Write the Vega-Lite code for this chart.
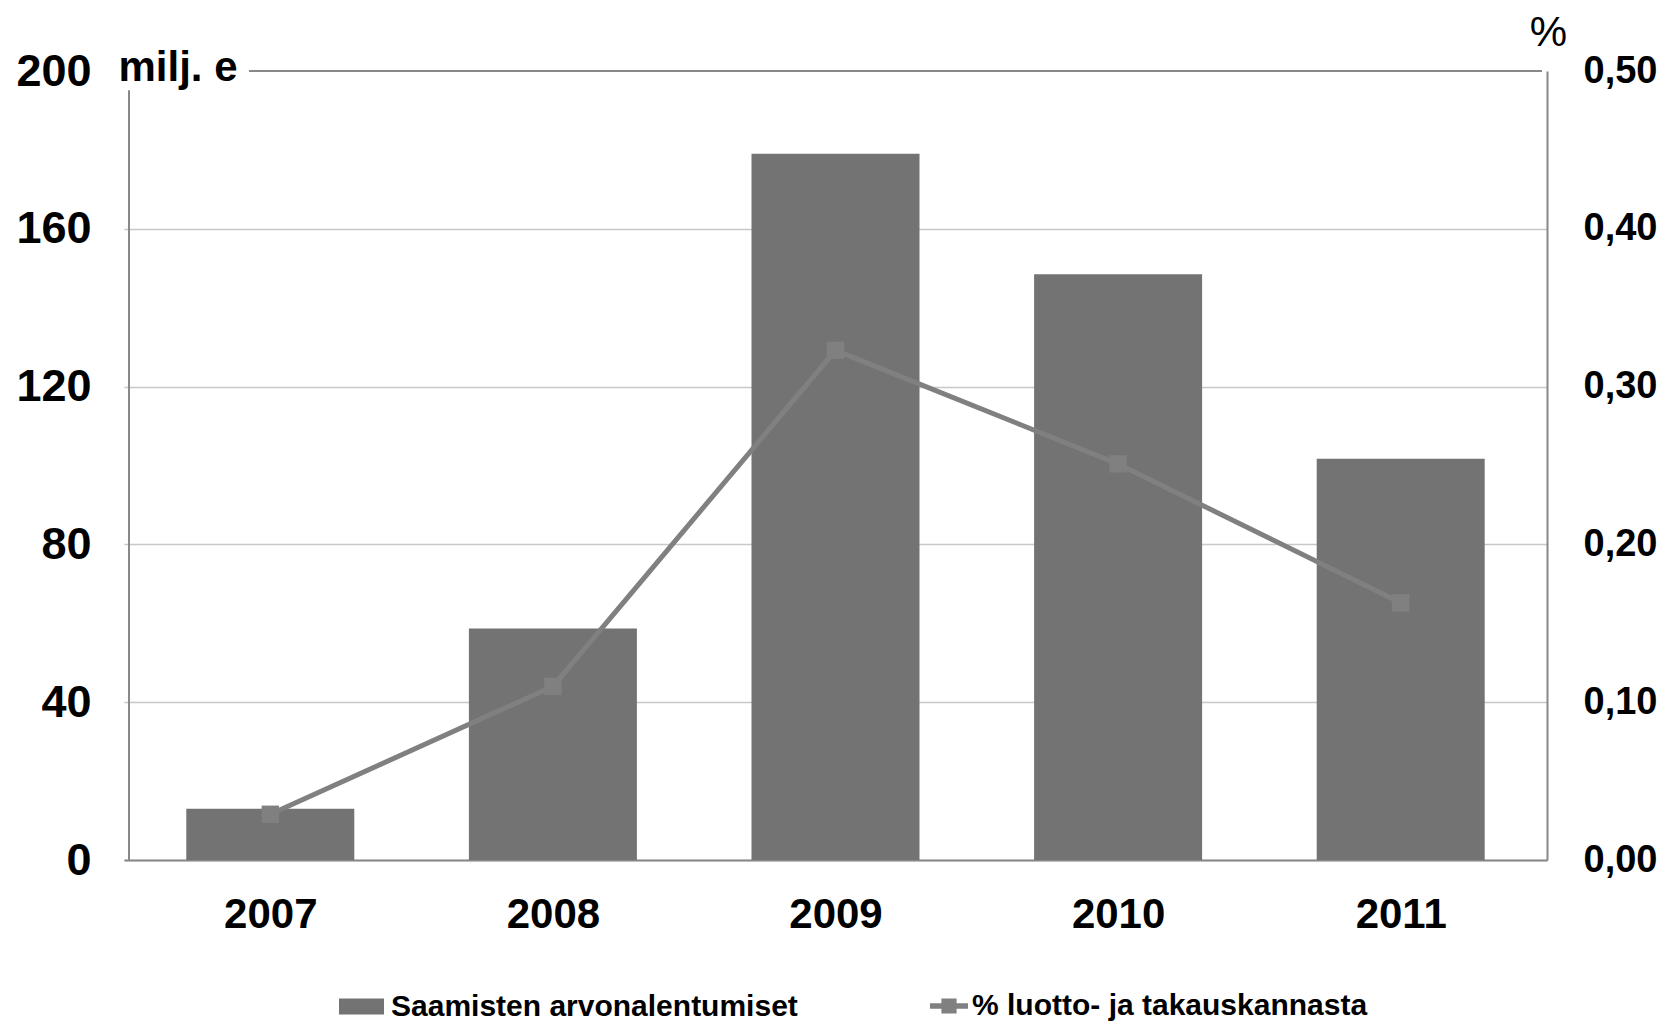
{
  "$schema": "https://vega.github.io/schema/vega-lite/v6.json",
  "autosize": "none",
  "width": 1423,
  "height": 789,
  "padding": {"left": 124, "top": 71, "right": 123, "bottom": 165},
  "background": "white",
  "config": {"font": "Liberation Sans", "view": {"stroke": null}},
  "data": {"values": [
    {"year": 2007, "value": 13, "pct": 0.029},
    {"year": 2008, "value": 58.7, "pct": 0.110},
    {"year": 2009, "value": 179, "pct": 0.323},
    {"year": 2010, "value": 148.5, "pct": 0.251},
    {"year": 2011, "value": 101.7, "pct": 0.163}
  ]},
  "resolve": {"scale": {"y": "independent"}, "axis": {"y": "independent"}},
  "layer": [
    {
      "layer": [
        {
          "mark": {"type": "bar", "size": 168, "color": "#737373"},
          "encoding": {
            "x": {"field": "year", "type": "quantitative",
              "scale": {"domain": [2006.5, 2011.5], "nice": false, "zero": false},
              "axis": {"values": [2007, 2008, 2009, 2010, 2011], "format": "d", "title": null,
                "labelFontSize": 42, "labelFontWeight": "bold", "labelColor": "black", "labelPadding": 34,
                "ticks": false, "grid": false, "domain": true, "domainColor": "#888888", "domainWidth": 2,
                "labelFlush": false, "labelOverlap": false}},
            "y": {"field": "value", "type": "quantitative",
              "scale": {"domain": [0, 200], "nice": false},
              "axis": {"values": [0, 40, 80, 120, 160, 200], "title": "milj. e",
                "titleAngle": 0, "titleAlign": "left", "titleBaseline": "alphabetic",
                "titleX": -6, "titleY": 9, "titleFontSize": 42, "titleFontWeight": "bold", "titleColor": "black",
                "labelFontSize": 45, "labelFontWeight": "bold", "labelColor": "black", "labelPadding": 33,
                "ticks": false, "domain": false, "grid": true, "gridColor": "#c8c8c8", "gridWidth": 1.5,
                "gridOpacity": {"condition": {"test": "datum.value === 200", "value": 0}, "value": 1}}},
            "fill": {"datum": "Saamisten arvonalentumiset",
              "scale": {"range": ["#737373"]},
              "legend": {"orient": "none", "legendX": 215, "legendY": 913, "title": null, "padding": 0,
                "symbolType": "M-1,-0.36H1V0.36H-1Z", "symbolSize": 2025, "symbolStrokeWidth": 0,
                "labelFontSize": 30, "labelFontWeight": "bold", "labelColor": "black", "labelOffset": 7, "labelLimit": 0}}
          }
        },
        {
          "mark": {"type": "rule", "color": "#888888", "strokeWidth": 2},
          "encoding": {
            "x": {"datum": 2006.5, "type": "quantitative"},
            "y": {"datum": 0, "type": "quantitative"},
            "y2": {"datum": 195}
          }
        },
        {
          "mark": {"type": "rule", "color": "#888888", "strokeWidth": 2},
          "encoding": {
            "x": {"datum": 2006.925, "type": "quantitative"},
            "x2": {"datum": 2011.5},
            "y": {"datum": 200, "type": "quantitative"}
          }
        }
      ]
    },
    {
      "layer": [
        {
          "mark": {"type": "line", "strokeWidth": 5},
          "encoding": {
            "x": {"field": "year", "type": "quantitative"},
            "y": {"field": "pct", "type": "quantitative",
              "scale": {"domain": [0, 0.5], "nice": false},
              "axis": {"orient": "right", "values": [0, 0.1, 0.2, 0.3, 0.4, 0.5],
                "labelExpr": "replace(format(datum.value, '.2f'), '.', ',')",
                "title": "%", "titleAngle": 0, "titleAlign": "center", "titleBaseline": "alphabetic",
                "titleX": 1, "titleY": -26, "titleFontSize": 42, "titleFontWeight": "normal", "titleColor": "black",
                "labelFontSize": 38, "labelFontWeight": "bold", "labelColor": "black", "labelPadding": 36,
                "ticks": false, "grid": false, "domain": true, "domainColor": "#888888", "domainWidth": 2}},
            "stroke": {"datum": "% luotto- ja takauskannasta",
              "scale": {"range": ["#808080"]},
              "legend": {"orient": "none", "legendX": 806, "legendY": 916, "title": null, "padding": 0,
                "symbolType": "M-1,-0.14H1V0.14H-1Z M-0.4,-0.4H0.4V0.4H-0.4Z", "symbolSize": 1444,
                "symbolFillColor": "#808080", "symbolStrokeWidth": 0,
                "labelFontSize": 30, "labelFontWeight": "bold", "labelColor": "black", "labelOffset": 4, "labelLimit": 0,
                "encode": {"symbols": {"update": {"fill": {"value": "#808080"}, "strokeWidth": {"value": 0}}}}}}
          }
        },
        {
          "mark": {"type": "square", "size": 300, "color": "#808080", "opacity": 1},
          "encoding": {
            "x": {"field": "year", "type": "quantitative"},
            "y": {"field": "pct", "type": "quantitative"}
          }
        }
      ]
    }
  ]
}
